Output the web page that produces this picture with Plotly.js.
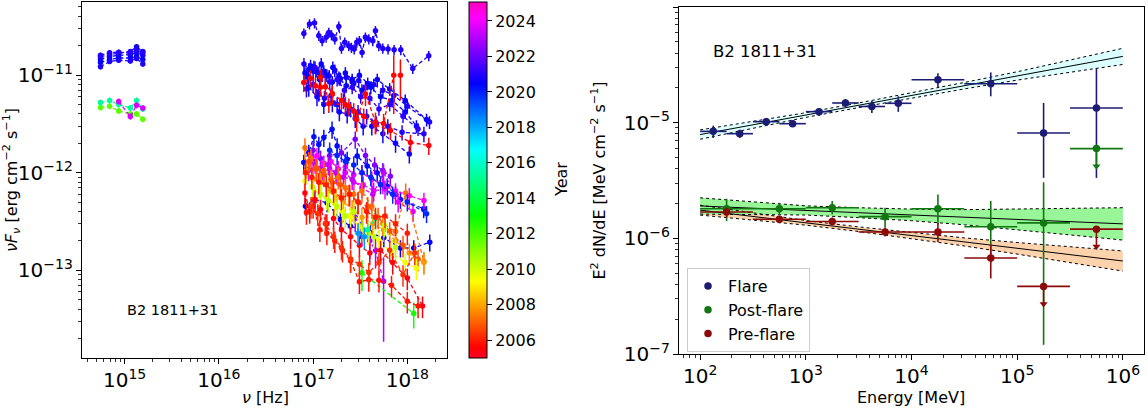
<!DOCTYPE html>
<html><head><meta charset="utf-8">
<script src="https://cdn.plot.ly/plotly-3.0.1.min.js"></script>
<style>html,body{margin:0;padding:0;background:#fff}#plot{width:1148px;height:408px}</style>
</head><body><div id="plot"></div><script>
// ---------------- LEFT PANEL DATA (Swift UVOT + XRT SEDs, coloured by year) ----------------
const uvotNu = [5.55e14, 6.93e14, 8.66e14, 1.15e15, 1.34e15, 1.56e15];
const uvotYears = [2020.4, 2020.6, 2020.8, 2020.9, 2021.0, 2011.7, 2015.3, 2023.6];
const uvotFlux = [
  [1.35e-11, 1.45e-11, 1.50e-11, 1.50e-11, 1.55e-11, 1.45e-11],
  [1.45e-11, 1.55e-11, 1.60e-11, 1.62e-11, 1.70e-11, 1.60e-11],
  [1.55e-11, 1.62e-11, 1.68e-11, 1.75e-11, 1.95e-11, 1.75e-11],
  [1.22e-11, 1.38e-11, 1.42e-11, 1.40e-11, 1.48e-11, 1.30e-11],
  [1.60e-11, 1.70e-11, 1.72e-11, 1.68e-11, 1.80e-11, 1.70e-11],
  [4.66e-12, 4.80e-12, 4.30e-12, 4.00e-12, 4.00e-12, 3.53e-12],
  [5.24e-12, 5.50e-12, 5.00e-12, 4.60e-12, 5.50e-12, 4.50e-12],
  [null, null, 5.37e-12, 3.76e-12, 4.90e-12, 4.60e-12]
];
const uvotErr = [0.06, 0.06, 0.06, 0.06, 0.06, 0.07, 0.07, 0.07];

const xrtYears = [2020.9, 2020.9, 2020.6, 2021.0, 2020.7, 2020.4, 2021.1, 2020.3, 2020.5,
  2005.5, 2005.7, 2022.3, 2024.2, 2023.8, 2023.3, 2023.0, 2007.2, 2007.8, 2006.8,
  2009.5, 2010.3, 2015.0, 2012.8, 2005.4, 2005.9, 2006.3, 2006.0, 2018.3, 2019.9];
const xrtNu = [
  [7.98e16, 9.16e16, 1.035e17, 1.15e17, 1.248e17, 1.376e17, 1.468e17, 1.567e17, 1.70e17, 1.875e17, 2.0e17, 2.17e17, 2.39e17, 2.55e17, 2.73e17, 2.91e17, 3.10e17, 3.31e17, 3.59e17, 3.90e17, 4.30e17, 4.59e17, 4.98e17, 5.49e17, 6.25e17, 7.24e17, 8.52e17, 1.142e18, 1.688e18],
  [8.0e16, 9.0e16, 1.02e17, 1.15e17, 1.3e17, 1.48e17, 1.7e17, 1.95e17, 2.25e17, 2.6e17, 3.05e17, 3.6e17, 4.4e17, 5.5e17, 7.2e17, 1.0e18, 1.72e18],
  [8.2e16, 9.4e16, 1.07e17, 1.22e17, 1.4e17, 1.62e17, 1.88e17, 2.2e17, 2.6e17, 3.1e17, 3.8e17, 4.8e17, 6.5e17, 9.5e17, 1.6e18],
  [8.5e16, 1.0e17, 1.15e17, 1.32e17, 1.55e17, 1.8e17, 2.1e17, 2.5e17, 3.0e17, 3.7e17, 4.7e17, 6.2e17, 8.8e17, 1.5e18],
  [9.0e16, 1.1e17, 1.3e17, 1.6e17, 1.9e17, 2.3e17, 2.8e17, 3.4e17, 4.2e17, 5.5e17, 7.5e17, 1.05e18],
  [8.8e16, 1.0e17, 1.17e17, 1.35e17, 1.6e17, 1.9e17, 2.25e17, 2.7e17, 3.3e17, 4.1e17, 5.2e17, 6.9e17, 9.5e17, 1.25e18],
  [1.05e17, 1.25e17, 1.5e17, 1.8e17, 2.15e17, 2.6e17, 3.2e17, 4.0e17, 5.0e17, 6.5e17, 9.0e17, 1.3e18],
  [7.96e16, 9.0e16, 1.02e17, 1.15e17, 1.30e17, 1.59e17, 1.80e17, 2.30e17, 2.94e17, 3.75e17, 4.79e17, 6.11e17, 8.45e17, 1.49e18],
  [8.3e16, 1.02e17, 1.41e17, 1.95e17, 2.49e17, 3.18e17, 4.06e17, 5.63e17, 8.45e17, 1.17e18, 1.73e18],
  [7.96e16, 9.38e16, 1.06e17, 1.20e17, 1.35e17, 1.47e17, 2.2e17, 2.7e17, 3.45e17, 4.59e17, 6.62e17, 1.08e18, 1.69e18],
  [1.2e17, 1.6e17, 2.0e17, 2.4e17, 2.9e17, 3.6e17, 4.6e17, 5.6e17, 7.18e17, 8.45e17],
  [8.5e16, 1.0e17, 1.2e17, 1.5e17, 2.0e17, 2.8e17, 3.6e17, 4.5e17, 5.5e17, 6.6e17],
  [9.5e16, 1.1e17, 1.3e17, 1.55e17, 1.85e17, 2.2e17, 2.7e17, 3.3e17, 4.2e17, 5.5e17, 7.5e17, 1.05e18, 1.5e18],
  [9.0e16, 1.05e17, 1.25e17, 1.5e17, 1.8e17, 2.2e17, 2.7e17, 3.4e17, 4.4e17, 5.8e17, 8.0e17, 1.15e18],
  [1.0e17, 1.2e17, 1.45e17, 1.75e17, 2.1e17, 2.6e17, 3.3e17, 4.3e17, 5.6e17, 7.5e17],
  [2.8e17, 3.3e17, 4.0e17, 4.6e17, 5.6e17],
  [8.2e16, 9.5e16, 1.1e17, 1.3e17, 1.55e17, 1.85e17, 2.2e17, 2.7e17, 3.3e17, 4.2e17, 5.5e17, 7.5e17, 9.6e17, 1.5e18],
  [8.5e16, 1.0e17, 1.2e17, 1.45e17, 1.75e17, 2.1e17, 2.6e17, 3.3e17, 4.3e17, 5.6e17, 7.5e17, 1.05e18, 1.5e18],
  [9.0e16, 1.08e17, 1.3e17, 1.6e17, 1.95e17, 2.4e17, 3.0e17, 3.8e17, 4.9e17, 6.5e17, 9.0e17, 1.3e18],
  [8.2e16, 9.8e16, 1.17e17, 1.4e17, 1.7e17, 2.05e17, 2.5e17, 3.1e17, 3.9e17, 5.0e17, 6.8e17, 9.5e17, 1.25e18],
  [1.0e17, 1.2e17, 1.45e17, 1.8e17, 2.2e17, 2.7e17, 3.4e17, 4.4e17, 5.7e17, 7.5e17],
  [3.8e17, 4.6e17],
  [3.3e17, 1.17e18],
  [8.2e16, 9.2e16, 1.05e17, 1.2e17, 1.4e17, 1.65e17, 2.0e17, 2.5e17, 3.1e17, 4.0e17, 5.2e17, 7.0e17, 1.0e18, 1.45e18],
  [8.5e16, 1.0e17, 1.18e17, 1.4e17, 1.7e17, 2.05e17, 2.5e17, 3.1e17, 3.9e17, 5.0e17, 6.8e17, 1.0e18, 1.3e18],
  [9.5e16, 1.12e17, 1.35e17, 1.65e17, 2.0e17, 2.5e17, 3.1e17, 3.9e17, 5.0e17, 6.5e17, 9.0e17, 1.2e18],
  [8.3e16, 9.7e16, 1.15e17, 1.38e17, 1.65e17, 2.0e17, 2.45e17, 3.0e17, 3.7e17, 4.6e17, 5.8e17, 7.5e17, 1.0e18],
  [3.0e17, 3.5e17],
  [1.5e17, 1.8e17, 2.2e17, 2.7e17, 3.3e17, 4.1e17, 5.2e17, 7.0e17, 1.0e18, 1.6e18]
];
const xrtFlux = [
  [2.68e-11, 3.34e-11, 3.42e-11, 2.54e-11, 2.25e-11, 2.44e-11, 2.74e-11, 2.58e-11, 2.34e-11, 3.16e-11, 1.88e-11, 2.17e-11, 2.0e-11, 1.92e-11, 1.85e-11, 2.17e-11, 2.25e-11, 1.71e-11, 2.44e-11, 2.34e-11, 2.25e-11, 2.85e-11, 2.0e-11, 1.88e-11, 1.85e-11, 1.82e-11, 1.82e-11, 1.17e-11, 1.58e-11],
  [1.3e-11, 1.15e-11, 1.22e-11, 1.05e-11, 1.1e-11, 9.8e-12, 1.12e-11, 9.2e-12, 9.5e-12, 8.5e-12, 8.8e-12, 7.5e-12, 8.0e-12, 7.0e-12, 6.2e-12, 4.8e-12, 3.3e-12],
  [1.05e-11, 1.25e-11, 1.1e-11, 1.3e-11, 1.0e-11, 1.2e-11, 9.5e-12, 1.05e-11, 9.0e-12, 1.0e-11, 8.2e-12, 9.0e-12, 7.2e-12, 5.5e-12, 3.5e-12],
  [7.2e-12, 8.0e-12, 6.5e-12, 5.8e-12, 6.2e-12, 5.0e-12, 5.5e-12, 4.5e-12, 4.2e-12, 3.8e-12, 3.2e-12, 3.0e-12, 2.6e-12, 2.5e-12],
  [7.5e-12, 6.0e-12, 5.0e-12, 5.2e-12, 4.2e-12, 4.0e-12, 3.6e-12, 3.0e-12, 3.0e-12, 2.5e-12, 2.0e-12, 1.55e-12],
  [9.5e-12, 1.1e-11, 9.0e-12, 1.0e-11, 8.5e-12, 9.2e-12, 7.8e-12, 8.2e-12, 7.0e-12, 7.5e-12, 6.0e-12, 5.5e-12, 4.2e-12, 3.0e-12],
  [1.2e-11, 1.0e-11, 8.5e-12, 9.0e-12, 7.0e-12, 7.5e-12, 6.0e-12, 5.8e-12, 4.5e-12, 5.0e-12, 3.8e-12, 2.8e-12],
  [1.27e-12, 1.61e-12, 2.34e-12, 1.95e-12, 2.29e-12, 2.79e-12, 1.88e-12, 1.37e-12, 1.48e-12, 1.17e-12, 1.0e-12, 7.28e-13, 5.32e-13, 4.27e-13],
  [4.54e-13, 5.32e-13, 4.9e-13, 3.31e-13, 2.83e-13, 2.61e-13, 2.42e-13, 2.15e-13, 1.69e-13, 1.69e-13, 1.94e-13],
  [8.4e-12, 9.3e-12, 7.8e-12, 7.5e-12, 7.6e-12, 5.1e-12, 5.0e-12, 4.3e-12, 3.8e-12, 3.1e-12, 2.7e-12, 2.04e-12, 1.9e-12],
  [9.5e-12, 6.5e-12, 5.5e-12, 4.8e-12, 3.5e-12, 6.4e-12, 3.3e-12, 3.2e-12, 1.0e-11, 1.0e-11],
  [1.05e-12, 1.7e-12, 1.4e-12, 1.5e-12, 1.6e-12, 2.2e-12, 1.5e-12, 1.2e-12, 1.05e-12, 9.2e-13],
  [1.4e-12, 1.5e-12, 1.25e-12, 1.3e-12, 1.1e-12, 1.15e-12, 9.5e-13, 1.0e-12, 8.5e-13, 7.5e-13, 6.5e-13, 5.8e-13, 5.2e-13],
  [1.05e-12, 1.25e-12, 1.0e-12, 1.1e-12, 9.5e-13, 1.0e-12, 8.0e-13, 7.5e-13, 6.5e-13, 6.8e-13, 5.0e-13, 4.0e-13],
  [1.3e-12, 1.1e-12, 1.2e-12, 1.0e-12, 9.0e-13, 8.5e-13, 7.0e-13, 6.0e-13, 1.0e-12, 6.0e-13],
  [3.5e-13, 2.5e-13, 2.0e-13, 1.6e-13, 7.7e-14],
  [1.8e-12, 1.4e-12, 1.1e-12, 1.05e-12, 8.5e-13, 9.0e-13, 7.0e-13, 6.0e-13, 6.5e-13, 4.5e-13, 3.0e-13, 2.5e-13, 6.2e-13, 1.23e-13],
  [1.05e-12, 8.5e-13, 8.0e-13, 6.5e-13, 5.5e-13, 5.0e-13, 4.2e-13, 3.5e-13, 3.0e-13, 2.6e-13, 2.0e-13, 1.5e-13, 1.2e-13],
  [1.3e-12, 1.1e-12, 9.5e-13, 8.0e-13, 7.5e-13, 6.0e-13, 5.0e-13, 4.5e-13, 3.5e-13, 2.5e-13, 1.8e-13, 1.3e-13],
  [8.2e-13, 7.2e-13, 6.0e-13, 5.5e-13, 4.8e-13, 4.0e-13, 3.5e-13, 2.8e-13, 2.4e-13, 2.0e-13, 1.5e-13, 1.2e-13, 1.05e-13],
  [7.0e-13, 6.0e-13, 5.2e-13, 4.5e-13, 3.6e-13, 4.0e-13, 2.6e-13, 2.2e-13, 2.9e-13, 1.7e-13],
  [2.6e-13, 3.4e-13],
  [9.4e-14, 3.6e-14],
  [6.2e-13, 4.0e-13, 5.3e-13, 4.2e-13, 3.0e-13, 3.4e-13, 2.6e-13, 2.2e-13, 1.8e-13, 1.5e-13, 1.6e-13, 1.2e-13, 8.3e-14, 4.3e-14],
  [3.9e-13, 4.5e-13, 2.6e-13, 2.4e-13, 2.0e-13, 1.6e-13, 1.25e-13, 7.6e-14, 8.0e-14, 7.9e-14, 7.0e-14, 4.8e-14, 4.3e-14],
  [4.5e-13, 3.8e-13, 3.0e-13, 2.2e-13, 1.7e-13, 1.3e-13, 1.15e-13, 9.5e-14, 1.2e-13, 1.6e-13, 9.0e-14, 1.5e-13],
  [1.0e-12, 9.0e-13, 8.0e-13, 7.5e-13, 6.5e-13, 5.5e-13, 6.0e-13, 5.0e-13, 4.0e-13, 3.5e-13, 3.6e-13, 3.0e-13, 2.4e-13],
  [2.4e-13, 2.2e-13],
  [1.7e-12, 1.5e-12, 1.3e-12, 1.2e-12, 1.0e-12, 9.0e-13, 7.5e-13, 6.0e-13, 5.0e-13, 3.8e-13]
];
// relative 1-sigma errors (one value per spectrum, or one per point)
const xrtErr = [0.12, 0.15, 0.15, 0.18, 0.2, 0.15, 0.15, 0.2, 0.2,
  0.2, [0.2, 0.2, 0.2, 0.2, 0.25, 0.25, 0.25, 0.25, 0.6, 0.45], 0.2, 0.2, 0.22, 0.22,
  [0.3, 0.3, 0.35, 0.35, 0.76], 0.25, 0.25, 0.25, 0.25, 0.25, 0.2, [0.35, 0.3],
  0.25, 0.25, 0.25, 0.25, 0.25, 0.2];

// ---------------- RIGHT PANEL DATA (Fermi-LAT SEDs) ----------------
const flareE   = [133, 237, 422, 750, 1334, 2371, 4217, 7499, 17783, 56234, 177828, 562341];
const flareElo = [100, 178, 316, 562, 1000, 1778, 3162, 5623, 10000, 31623, 100000, 316228];
const flareEhi = [178, 316, 562, 1000, 1778, 3162, 5623, 10000, 31623, 100000, 316228, 1000000];
const flareF   = [8.41e-6, 8.03e-6, 1.02e-5, 9.8e-6, 1.245e-5, 1.48e-5, 1.38e-5, 1.47e-5, 2.35e-5, 2.17e-5, 8.15e-6, 1.34e-5];
const flareFhi = [9.42e-6, 8.7e-6, 1.1e-5, 1.05e-5, 1.34e-5, 1.6e-5, 1.54e-5, 1.69e-5, 2.68e-5, 2.72e-5, 1.48e-5, 2.96e-5];
const flareFlo = [7.38e-6, 7.38e-6, 9.4e-6, 9.2e-6, 1.15e-5, 1.36e-5, 1.21e-5, 1.24e-5, 2.03e-5, 1.69e-5, 3.33e-6, 3.33e-6];

const wideE   = [178, 562, 1778, 5623, 17783, 56234, 177828, 562341];
const wideElo = [100, 316, 1000, 3162, 10000, 31623, 100000, 316228];
const wideEhi = [316, 1000, 3162, 10000, 31623, 100000, 316228, 1000000];

const postF   = [1.8e-6, 1.8e-6, 1.84e-6, 1.54e-6, 1.8e-6, 1.26e-6, 1.36e-6, 5.97e-6];
const postFhi = [2.2e-6, 2.03e-6, 2.1e-6, 1.84e-6, 2.39e-6, 2.1e-6, 3.05e-6, 5.97e-6];
const postFlo = [1.41e-6, 1.61e-6, 1.61e-6, 1.24e-6, 1.32e-6, 6.17e-7, 1.2e-7, 4.2e-6];
const postUL  = [0, 0, 0, 0, 0, 0, 0, 1];

const preF   = [1.69e-6, 1.46e-6, 1.40e-6, 1.135e-6, 1.135e-6, 6.76e-7, 3.84e-7, 1.2e-6];
const preFhi = [1.84e-6, 1.56e-6, 1.51e-6, 1.24e-6, 1.35e-6, 8.87e-7, 3.84e-7, 1.2e-6];
const preFlo = [1.51e-6, 1.35e-6, 1.29e-6, 1.035e-6, 9.3e-7, 4.5e-7, 2.7e-7, 8.5e-7];
const preUL  = [0, 0, 0, 0, 0, 0, 1, 1];

const bandE = [1e2, 3.162e2, 1e3, 3.162e3, 1e4, 3.162e4, 1e5, 3.162e5, 1e6];
const flareBandC  = [7.89e-6, 9.58e-6, 1.164e-5, 1.413e-5, 1.718e-5, 2.087e-5, 2.535e-5, 3.079e-5, 3.741e-5];
const flareBandHi = [8.65e-6, 1.022e-5, 1.219e-5, 1.48e-5, 1.81e-5, 2.226e-5, 2.754e-5, 3.474e-5, 4.395e-5];
const flareBandLo = [7.19e-6, 8.98e-6, 1.111e-5, 1.35e-5, 1.63e-5, 1.957e-5, 2.333e-5, 2.73e-5, 3.184e-5];
const postBandC  = [1.905e-6, 1.83e-6, 1.742e-6, 1.666e-6, 1.592e-6, 1.524e-6, 1.459e-6, 1.393e-6, 1.334e-6];
const postBandHi = [2.24e-6, 2.08e-6, 1.91e-6, 1.84e-6, 1.79e-6, 1.77e-6, 1.79e-6, 1.82e-6, 1.84e-6];
const postBandLo = [1.62e-6, 1.61e-6, 1.59e-6, 1.51e-6, 1.42e-6, 1.31e-6, 1.19e-6, 1.07e-6, 9.66e-7];
const preBandC  = [1.754e-6, 1.545e-6, 1.361e-6, 1.2e-6, 1.057e-6, 9.31e-7, 8.2e-7, 7.23e-7, 6.37e-7];
const preBandHi = [1.936e-6, 1.656e-6, 1.426e-6, 1.256e-6, 1.119e-6, 1.009e-6, 9.2e-7, 8.45e-7, 7.78e-7];
const preBandLo = [1.589e-6, 1.442e-6, 1.3e-6, 1.146e-6, 9.98e-7, 8.59e-7, 7.31e-7, 6.18e-7, 5.21e-7];

const colorbarTicks = [2006, 2008, 2010, 2012, 2014, 2016, 2018, 2020, 2022, 2024];

// ---------------- STYLE / BUILD ----------------
const YMIN = 2005.0, YMAX = 2025.07;
const rainbow = [[0, [255, 0, 41]], [0.03, [255, 0, 0]], [0.215, [255, 255, 0]], [0.4, [0, 255, 0]],
  [0.586, [0, 255, 255]], [0.77, [0, 0, 255]], [0.954, [255, 0, 255]], [1, [255, 0, 191]]];
const colorscale = rainbow.map(s => [s[0], `rgb(${s[1].join(',')})`]);
function yearColor(yr) {
  const t = Math.min(1, Math.max(0, (yr - YMIN) / (YMAX - YMIN)));
  for (let i = 1; i < rainbow.length; i++) {
    if (t <= rainbow[i][0]) {
      const a = rainbow[i - 1], b = rainbow[i];
      const f = (t - a[0]) / (b[0] - a[0]);
      const c = a[1].map((v, k) => Math.round(v + f * (b[1][k] - v)));
      return `rgb(${c.join(',')})`;
    }
  }
  return 'rgb(255,0,191)';
}

const FONT = 'DejaVu Sans, Verdana, sans-serif';
const traces = [];

function sedTrace(nu, flux, yr, err) {
  const col = yearColor(yr);
  const errs = flux.map((f, j) => f == null ? null : f * (Array.isArray(err) ? err[j] : err));
  return {
    x: nu, y: flux, xaxis: 'x', yaxis: 'y', mode: 'lines+markers', showlegend: false, hoverinfo: 'skip',
    connectgaps: true,
    line: { color: col, width: 1.3, dash: '4px,2.5px' },
    marker: { size: 5.5, color: nu.map(() => yr), coloraxis: 'coloraxis' },
    error_y: { type: 'data', array: errs, color: col, thickness: 1.5, width: 0 }
  };
}
xrtYears.forEach((yr, i) => traces.push(sedTrace(xrtNu[i], xrtFlux[i], yr, xrtErr[i])));
uvotYears.forEach((yr, i) => traces.push(sedTrace(uvotNu, uvotFlux[i], yr, uvotErr[i])));

// bow-ties (right panel)
function band(hi, lo, fill) {
  traces.push({ x: bandE.concat(bandE.slice().reverse()), y: hi.concat(lo.slice().reverse()),
    xaxis: 'x2', yaxis: 'y2', mode: 'lines', fill: 'toself', fillcolor: fill,
    line: { width: 0, color: 'rgba(0,0,0,0)' }, showlegend: false, hoverinfo: 'skip' });
}
function bandLines(c, hi, lo) {
  [hi, lo].forEach(arr => traces.push({ x: bandE, y: arr, xaxis: 'x2', yaxis: 'y2', mode: 'lines',
    line: { color: '#000', width: 1, dash: 'dot' }, showlegend: false, hoverinfo: 'skip' }));
  traces.push({ x: bandE, y: c, xaxis: 'x2', yaxis: 'y2', mode: 'lines',
    line: { color: '#000', width: 1 }, showlegend: false, hoverinfo: 'skip' });
}
band(flareBandHi, flareBandLo, '#dcffff');
band(preBandHi, preBandLo, '#fdd3ae');
band(postBandHi, postBandLo, '#98f598');
bandLines(flareBandC, flareBandHi, flareBandLo);
bandLines(preBandC, preBandHi, preBandLo);
bandLines(postBandC, postBandHi, postBandLo);

function lat(name, E, Elo, Ehi, F, Fhi, Flo, col) {
  traces.push({ name: name, x: E, y: F, xaxis: 'x2', yaxis: 'y2', mode: 'markers',
    marker: { color: col, size: 7.5 }, hoverinfo: 'skip',
    error_x: { type: 'data', symmetric: false, array: E.map((e, i) => Ehi[i] - e),
      arrayminus: E.map((e, i) => e - Elo[i]), color: col, thickness: 1.6, width: 0 },
    error_y: { type: 'data', symmetric: false, array: F.map((f, i) => Fhi[i] - f),
      arrayminus: F.map((f, i) => f - Flo[i]), color: col, thickness: 1.6, width: 0 } });
}
function ulArrows(E, Flo, ul, col) {
  const xs = [], ys = [];
  ul.forEach((u, i) => { if (u) { xs.push(E[i]); ys.push(Flo[i]); } });
  traces.push({ x: xs, y: ys, xaxis: 'x2', yaxis: 'y2', mode: 'markers', showlegend: false,
    hoverinfo: 'skip', marker: { symbol: 'triangle-down', size: 7, color: col } });
}
const cFlare = '#1c1c74', cPost = '#117711', cPre = '#8b0a0a';
lat('Flare', flareE, flareElo, flareEhi, flareF, flareFhi, flareFlo, cFlare);
lat('Post-flare', wideE, wideElo, wideEhi, postF, postFhi, postFlo, cPost);
lat('Pre-flare', wideE, wideElo, wideEhi, preF, preFhi, preFlo, cPre);
ulArrows(wideE, postFlo, postUL, cPost);
ulArrows(wideE, preFlo, preUL, cPre);

const W = 1148, H = 408;
const axBase = {
  type: 'log', showline: true, linecolor: '#000', linewidth: 1, mirror: true,
  ticks: 'outside', ticklen: 5, tickwidth: 1, tickcolor: '#000', showgrid: false, zeroline: false,
  dtick: 1, exponentformat: 'power', tickfont: { size: 16, color: '#000', family: FONT },
  minor: { ticks: 'outside', ticklen: 3, tickwidth: 0.8, tickcolor: '#000', dtick: 'D1', showgrid: false }
};
const layout = {
  width: W, height: H, margin: { l: 0, r: 0, t: 0, b: 0 }, paper_bgcolor: '#fff', plot_bgcolor: '#fff',
  font: { family: FONT, size: 16, color: '#000' },
  xaxis: Object.assign({}, axBase, { domain: [82 / W, 447 / W], range: [14.548, 18.421], anchor: 'y' }),
  yaxis: Object.assign({}, axBase, { domain: [1 - 358 / H, 1 - 2 / H], range: [-13.9, -10.25], anchor: 'x',
    title: { text: '<i>νF<sub>ν</sub></i> [erg cm<sup>−2</sup> s<sup>−1</sup>]', font: { size: 16 }, standoff: 6 } }),
  xaxis2: Object.assign({}, axBase, { domain: [679 / W, 1144 / W], range: [1.8, 6.2], anchor: 'y2' }),
  yaxis2: Object.assign({}, axBase, { domain: [1 - 354 / H, 1 - 7 / H], range: [-7, -4], anchor: 'x2',
    title: { text: 'E<sup>2</sup> dN/dE [MeV cm<sup>−2</sup> s<sup>−1</sup>]', font: { size: 16 }, standoff: 14 } }),
  coloraxis: {
    cmin: YMIN, cmax: YMAX, colorscale: colorscale,
    colorbar: { x: 469 / W, xanchor: 'left', y: 1 - 2 / H, yanchor: 'top', len: 356 / H, lenmode: 'fraction',
      thickness: 18, thicknessmode: 'pixels', xpad: 0, ypad: 0, outlinewidth: 1, outlinecolor: '#000',
      ticks: 'outside', ticklen: 5, tickcolor: '#000', tickvals: colorbarTicks,
      tickfont: { size: 16, family: FONT, color: '#000' } }
  },
  legend: { x: 687 / W, y: 1 - 268 / H, xanchor: 'left', yanchor: 'top', bgcolor: '#fff',
    bordercolor: '#cccccc', borderwidth: 1, font: { size: 16, family: FONT }, tracegroupgap: 0 },
  annotations: [
    { xref: 'paper', yref: 'paper', x: 265 / W, y: 1 - 397 / H, xanchor: 'center', yanchor: 'middle',
      text: '<i>ν</i> [Hz]', showarrow: false, font: { size: 16, family: FONT } },
    { xref: 'paper', yref: 'paper', x: 911 / W, y: 1 - 397 / H, xanchor: 'center', yanchor: 'middle',
      text: 'Energy [MeV]', showarrow: false, font: { size: 16, family: FONT } },
    { xref: 'paper', yref: 'paper', x: 172 / W, y: 1 - 310 / H, xanchor: 'center', yanchor: 'middle',
      text: 'B2 1811+31', showarrow: false, font: { size: 14.5, family: FONT } },
    { xref: 'paper', yref: 'paper', x: 711 / W, y: 1 - 51 / H, xanchor: 'left', yanchor: 'middle',
      text: 'B2 1811+31', showarrow: false, font: { size: 16.5, family: FONT } },
    { xref: 'paper', yref: 'paper', x: 561 / W, y: 1 - 180 / H, xanchor: 'center', yanchor: 'middle',
      text: 'Year', textangle: -90, showarrow: false, font: { size: 16, family: FONT } }
  ]
};
Plotly.newPlot('plot', traces, layout, { staticPlot: true, displayModeBar: false });
</script></body></html>
